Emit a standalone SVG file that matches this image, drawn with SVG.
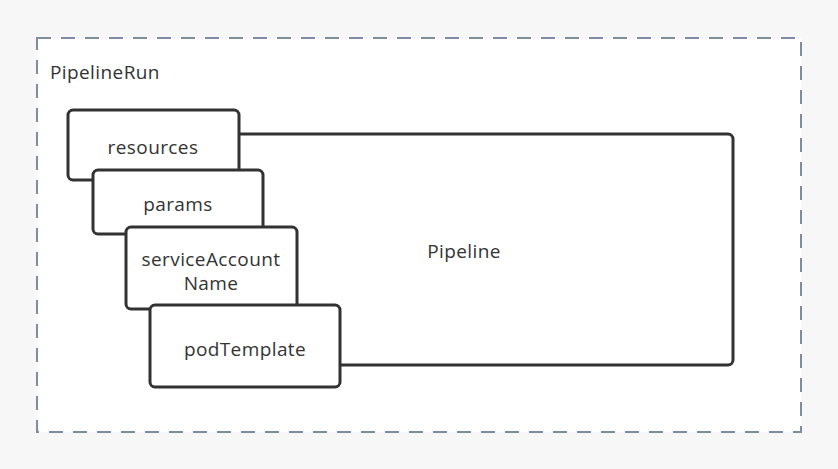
<svg xmlns="http://www.w3.org/2000/svg" width="838" height="469" viewBox="0 0 838 469">
<style>
.bg{fill:#f7f7f7}
.frame{fill:#ffffff;stroke:#7f8da2;stroke-width:2;stroke-dasharray:14 10}
.box{fill:#ffffff;stroke:#323232;stroke-width:3}
text{font-family:"Open Sans","Noto Sans",sans-serif;font-size:19px;letter-spacing:0.4px;fill:#333333}
.c{text-anchor:middle}
</style>
<rect class="bg" x="0" y="0" width="838" height="469"/>
<g id="pipelinerun">
<rect class="frame" x="37" y="38" width="764" height="394"/>
<text x="50" y="79">PipelineRun</text>
</g>
<g id="connectors"></g>
<g id="pipeline">
<rect class="box" x="160" y="134" width="573" height="231" rx="5"/>
<text class="c" x="464" y="258">Pipeline</text>
</g>
<g id="resources">
<rect class="box" x="68" y="110" width="171" height="70" rx="5"/>
<text class="c" x="153" y="154">resources</text>
</g>
<g id="params">
<rect class="box" x="93" y="170" width="170" height="64" rx="5"/>
<text class="c" x="178" y="211">params</text>
</g>
<g id="serviceAccountName">
<rect class="box" x="126" y="227" width="171" height="82" rx="5"/>
<text class="c" x="211" y="266"><tspan x="211">serviceAccount</tspan><tspan x="211" dy="24">Name</tspan></text>
</g>
<g id="podTemplate">
<rect class="box" x="150" y="305" width="190" height="82" rx="5"/>
<text class="c" x="245" y="356">podTemplate</text>
</g>
</svg>
